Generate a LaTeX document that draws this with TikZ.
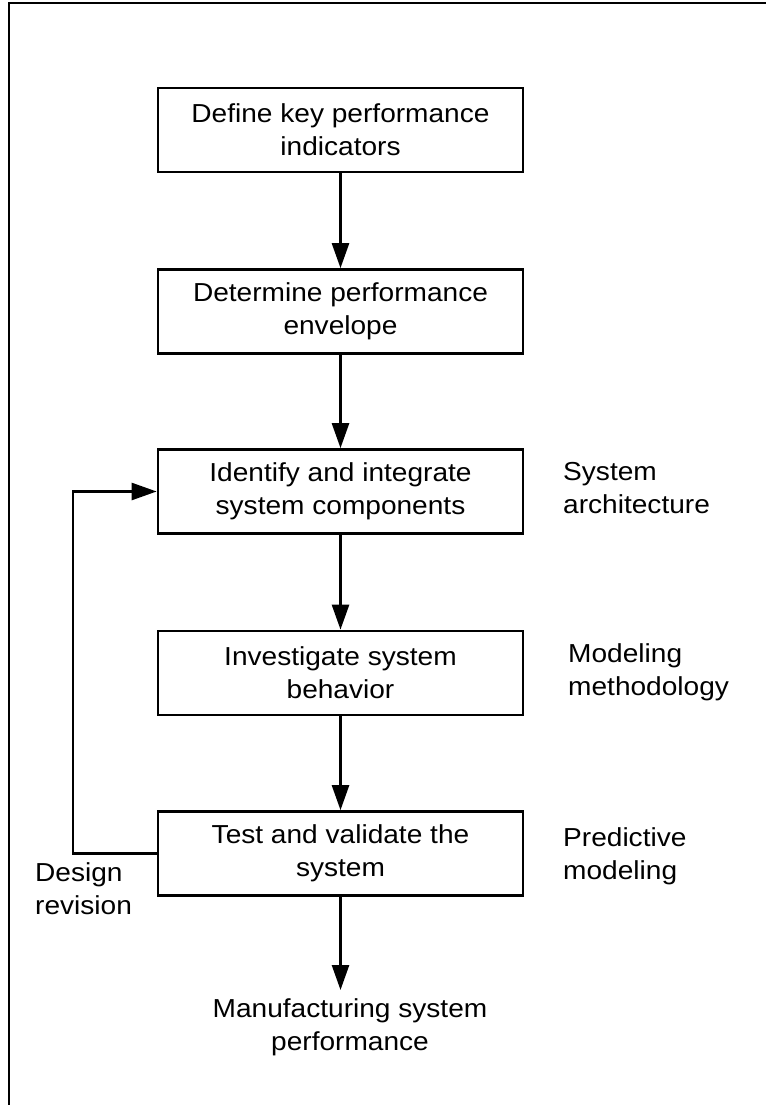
\documentclass[tikz,border=0pt]{standalone}
\usepackage{fontspec}
\setmainfont{Liberation Sans}[FakeStretch=1.08]
\usetikzlibrary{arrows.meta}
\begin{document}
\begin{tikzpicture}[x=1pt,y=-1pt,
  box/.style={draw, line width=2.7pt, minimum width=365pt, minimum height=84pt, inner sep=0pt, align=center, font=\fontsize{26}{33}\selectfont},
  lbl/.style={align=left, inner sep=0pt, font=\fontsize{26}{33}\selectfont},
  arr/.style={line width=2.6pt, -{Triangle[length=25pt,width=17pt]}}
]
\useasboundingbox (0,0) rectangle (766,1105);
\draw[line width=2.2pt] (9,1105) -- (9,3) -- (766,3);

\node[box] (b1) at (340.5,130) {Define key performance\\indicators};
\node[box] (b2) at (340.5,311.5) {Determine performance\\envelope};
\node[box] (b3) at (340.5,491.5) {Identify and integrate\\system components};
\node[box] (b4) at (340.5,673) {Investigate system\\behavior};
\node[box] (b5) at (340.5,853.5) {Test and validate the\\system};

\node[lbl, anchor=base west] (l3) at (563,513) {System\\architecture};
\node[lbl, anchor=base west] (l4) at (568,695) {Modeling\\methodology};
\node[lbl, anchor=base west] (l5) at (563,879) {Predictive\\modeling};
\node[lbl, anchor=base west] (ld) at (35,914) {Design\\revision};
\node[lbl, align=center, anchor=base] (out) at (350,1050) {Manufacturing system\\performance};

\draw[arr] (b1) -- (b2);
\draw[arr] (b2) -- (b3);
\draw[arr] (b3) -- (b4);
\draw[arr] (b4) -- (b5);
\coordinate (fb) at (73,853.5);
\draw[arr] (b5.west) -- (fb) |- (b3.west);
\coordinate (tip) at (340.5,990);
\draw[arr] (b5) -- (tip);
\end{tikzpicture}
\end{document}
